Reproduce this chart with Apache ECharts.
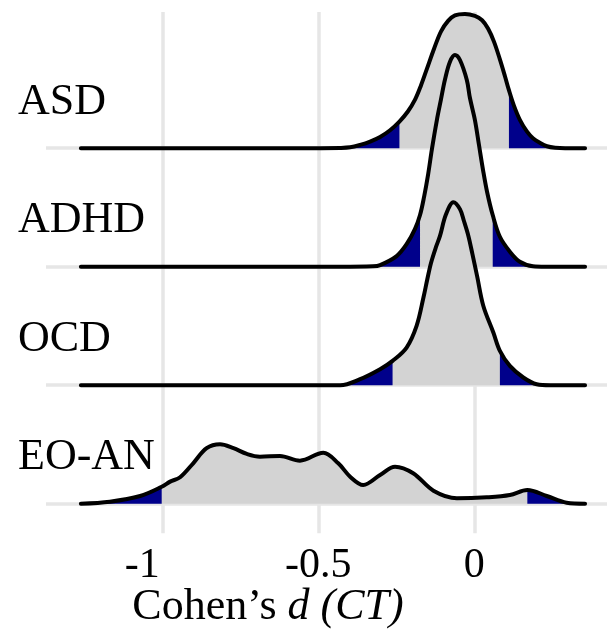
<!DOCTYPE html>
<html>
<head>
<meta charset="utf-8">
<script src="https://cdn.jsdelivr.net/npm/echarts@6/dist/echarts.min.js"></script>
<style>
html, body { margin: 0; padding: 0; background: #fff; }
#chart { width: 607px; height: 638px; }
</style>
</head>
<body>
<div id="chart"></div>
<script>
// ridges, top to bottom
const groups = ['ASD', 'ADHD', 'OCD', 'EO-AN'];
const xTicks = [-1, -0.5, 0];

// density curves: x = Cohen's d, h = ridge height (1 = gap between ridges)
const asdX = [-1.261, -0.559, -0.430, -0.398, -0.366, -0.334, -0.302, -0.270, -0.240, -0.213, -0.190, -0.171, -0.152, -0.129, -0.107, -0.084, -0.062, -0.030, 0.002, 0.025, 0.044, 0.063, 0.082, 0.098, 0.111, 0.127, 0.146, 0.169, 0.188, 0.211, 0.233, 0.259, 0.291, 0.355];
const asdH = [0, 0, 0.003, 0.008, 0.028, 0.056, 0.095, 0.152, 0.225, 0.310, 0.410, 0.530, 0.670, 0.840, 0.985, 1.075, 1.122, 1.134, 1.117, 1.080, 1.010, 0.900, 0.750, 0.610, 0.490, 0.360, 0.240, 0.140, 0.085, 0.045, 0.017, 0.004, 0, 0];

const adhdX = [-1.261, -0.430, -0.325, -0.302, -0.249, -0.217, -0.190, -0.174, -0.161, -0.148, -0.136, -0.120, -0.107, -0.094, -0.078, -0.062, -0.046, -0.024, -0.014, 0.002, 0.015, 0.028, 0.041, 0.059, 0.082, 0.114, 0.146, 0.188, 0.227, 0.355];
const adhdH = [0, 0, 0.004, 0.014, 0.090, 0.190, 0.320, 0.436, 0.590, 0.780, 0.990, 1.238, 1.410, 1.580, 1.730, 1.787, 1.745, 1.576, 1.424, 1.238, 1.027, 0.816, 0.631, 0.436, 0.253, 0.127, 0.042, 0.004, 0, 0];

const ocdX = [-1.261, -0.559, -0.430, -0.366, -0.302, -0.262, -0.217, -0.185, -0.163, -0.151, -0.139, -0.123, -0.110, -0.091, -0.067, -0.046, -0.033, -0.019, -0.006, 0.009, 0.029, 0.061, 0.082, 0.114, 0.157, 0.200, 0.243, 0.355];
const ocdH = [0, 0, 0, 0.051, 0.135, 0.205, 0.318, 0.501, 0.740, 0.890, 1.030, 1.165, 1.260, 1.440, 1.545, 1.486, 1.384, 1.260, 1.106, 0.920, 0.669, 0.445, 0.290, 0.163, 0.065, 0.008, 0, 0];

const eoanX = [-1.261, -1.168, -1.071, -1.002, -0.975, -0.943, -0.901, -0.858, -0.815, -0.772, -0.729, -0.687, -0.623, -0.559, -0.484, -0.436, -0.398, -0.356, -0.302, -0.254, -0.196, -0.131, -0.056, 0.040, 0.114, 0.170, 0.232, 0.296, 0.355];
const eoanH = [0, 0.017, 0.065, 0.143, 0.186, 0.223, 0.341, 0.468, 0.501, 0.468, 0.420, 0.397, 0.403, 0.363, 0.430, 0.341, 0.228, 0.158, 0.242, 0.312, 0.257, 0.110, 0.046, 0.054, 0.073, 0.116, 0.065, 0.008, 0];

// lower / upper cut points of the shaded tails
const asdTails = [-0.240, 0.111];
const adhdTails = [-0.174, 0.059];
const ocdTails = [-0.262, 0.082];
const eoanTails = [-1.002, 0.170];

const font = "'Liberation Serif', 'DejaVu Serif', serif";
const fillGrey = '#d3d3d3';
const tailBlue = '#00008b';
const labelLift = 0.39;

const ridges = [
    { name: 'ASD', base: 3, x: asdX, h: asdH, tails: asdTails },
    { name: 'ADHD', base: 2, x: adhdX, h: adhdH, tails: adhdTails },
    { name: 'OCD', base: 1, x: ocdX, h: ocdH, tails: ocdTails },
    { name: 'EO-AN', base: 0, x: eoanX, h: eoanH, tails: eoanTails }
];

const lineBase = {
    type: 'line',
    smooth: 0.35,
    showSymbol: false,
    silent: true,
    clip: false,
    z: 10
};

const series = [{
    // light grid lines behind the ridges (markLine z 5 < ridges z 10)
    type: 'line',
    data: [],
    silent: true,
    z: 1,
    markLine: {
        symbol: 'none',
        silent: true,
        animation: false,
        label: { show: false },
        lineStyle: { color: '#e6e6e6', width: 3.5, type: 'solid' },
        data: xTicks.map(v => ({ xAxis: v })).concat(ridges.map(r => ({ yAxis: r.base })))
    }
}];

ridges.forEach(r => {
    const pts = r.x.map((v, i) => [v, r.base + r.h[i]]);
    series.push(Object.assign({}, lineBase, {
        name: r.name + ' fill',
        data: pts,
        lineStyle: { width: 0 },
        areaStyle: { color: fillGrey, opacity: 1, origin: r.base }
    }));
    series.push(Object.assign({}, lineBase, {
        name: r.name + ' low',
        data: pts.filter(p => p[0] <= r.tails[0]),
        lineStyle: { width: 0 },
        areaStyle: { color: tailBlue, opacity: 1, origin: r.base }
    }));
    series.push(Object.assign({}, lineBase, {
        name: r.name + ' high',
        data: pts.filter(p => p[0] >= r.tails[1]),
        lineStyle: { width: 0 },
        areaStyle: { color: tailBlue, opacity: 1, origin: r.base }
    }));
    series.push(Object.assign({}, lineBase, {
        name: r.name,
        data: pts,
        lineStyle: { color: '#000', width: 4, cap: 'round', join: 'round' }
    }));
});

const chart = echarts.init(document.getElementById('chart'));
chart.setOption({
    animation: false,
    backgroundColor: '#fff',
    grid: { left: 46, right: 0, top: 12, bottom: 104.7 },
    xAxis: {
        type: 'value',
        min: -1.3728,
        max: 0.4253,
        axisLine: { show: false },
        axisTick: { show: false },
        splitLine: { show: false },
        axisLabel: {
            customValues: xTicks,
            // the "-1" label sits left of its grid line in the original
            formatter: v => (v === -1 ? '{s|-1}' : String(v)),
            fontFamily: font,
            fontSize: 42,
            color: '#000',
            margin: 12,
            rich: {
                s: { fontFamily: font, fontSize: 42, color: '#000', padding: [0, 40, 0, 0] }
            }
        }
    },
    yAxis: {
        type: 'value',
        min: -0.25,
        max: 4.15,
        axisLine: { show: false },
        axisTick: { show: false },
        splitLine: { show: false },
        axisLabel: {
            customValues: ridges.map(r => r.base + labelLift),
            formatter: v => groups[3 - Math.round(v - labelLift)],
            align: 'left',
            margin: 28,
            fontFamily: font,
            fontSize: 44,
            color: '#000'
        }
    },
    graphic: [{
        type: 'text',
        x: 268,
        y: 607,
        silent: true,
        style: {
            text: '{a|Cohen’s }{b|d (CT)}',
            align: 'center',
            verticalAlign: 'middle',
            rich: {
                a: { fontFamily: font, fontSize: 44, fill: '#000' },
                b: { fontFamily: font, fontSize: 44, fontStyle: 'italic', fill: '#000' }
            }
        }
    }],
    series: series
});
window.onresize = function () {
    chart && chart.resize();
};
</script>
</body>
</html>
